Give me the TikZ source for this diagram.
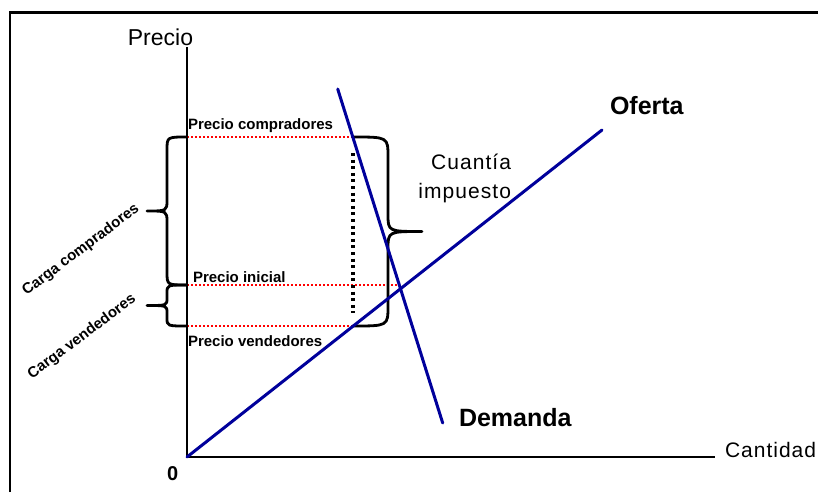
\documentclass[tikz,border=0pt]{standalone}
\usepackage{fontspec}
\setmainfont{Liberation Sans}
\newfontfamily\spacedA[LetterSpace=4.8]{Liberation Sans}
\newfontfamily\spacedB[LetterSpace=5]{Liberation Sans}
\definecolor{curveblue}{RGB}{0,0,155}
\begin{document}
\begin{tikzpicture}[x=1pt,y=-1pt,
  txt/.style={inner sep=0pt,outer sep=0pt},
  smalllbl/.style={txt,font=\fontsize{15}{17}\selectfont\bfseries},
  biglbl/.style={txt,font=\fontsize{25}{28}\selectfont\bfseries},
  axisline/.style={line width=2.3pt,black},
  curve/.style={line width=3pt,curveblue,line cap=round},
  reddots/.style={line width=2.4pt,red,dash pattern=on 2pt off 2pt},
  blackdots/.style={line width=3.2pt,black,dash pattern=on 3pt off 3.6pt},
  brc/.style={line width=2.8pt,black,line cap=round,line join=round},
  framestyle/.style={line width=2.6pt,black}]
\useasboundingbox (0,0) rectangle (818,492);
% frame
\coordinate (fbl) at (10,492);
\coordinate (ftl) at (10,12.7);
\coordinate (ftr) at (818,12.7);
\draw[framestyle] (fbl) -- (ftl) -- (ftr);
% axes
\coordinate (O) at (187,457);
\coordinate (ytop) at (187,47);
\coordinate (xend) at (715,457);
\draw[axisline] (ytop) -- (O) -- (xend);
% price levels
\coordinate (pc0) at (187,137);  \coordinate (pc1) at (353,137);
\coordinate (pi0) at (187,285);  \coordinate (pi1) at (400,285);
\coordinate (pv0) at (187,326);  \coordinate (pv1) at (353,326);
\draw[reddots] (pc0) -- (pc1);
\draw[reddots] (pi0) -- (pi1);
\draw[reddots] (pv0) -- (pv1);
\coordinate (vd0) at (353,153);  \coordinate (vd1) at (353,313);
\draw[blackdots] (vd0) -- (vd1);
% braces
\draw[brc] (187,137) .. controls (167,137) .. (167,150) -- (167,200)
  .. controls (167,211) .. (147,211) .. controls (167,211) .. (167,222)
  -- (167,272) .. controls (167,285) .. (187,285);
\draw[brc] (187,285) .. controls (167,285) .. (167,293) -- (167,298)
  .. controls (167,305.5) .. (147,305.5) .. controls (167,305.5) .. (167,313)
  -- (167,318) .. controls (167,326) .. (187,326);
\draw[brc] (353,137) .. controls (388,137) .. (388,157) -- (388,214)
  .. controls (388,231.5) .. (422,231.5) .. controls (388,231.5) .. (388,249)
  -- (388,306) .. controls (388,326) .. (353,326);
% supply and demand
\coordinate (ofEnd) at (602,130);
\coordinate (dTop) at (337.7,89);
\coordinate (dBot) at (442.7,423);
\draw[curve] (O) -- (ofEnd);
\draw[curve] (dTop) -- (dBot);
% labels
\node[txt,font=\fontsize{23}{26}\selectfont,anchor=base] (precio) at (160.5,46) {Precio};
\node[txt,font=\fontsize{21}{24}\selectfont\spacedA,anchor=base west] (cantidad) at (725,457.5) {Cantidad};
\node[txt,font=\fontsize{20}{22}\selectfont\bfseries,anchor=base west] (cero) at (167,480) {0};
\node[biglbl,anchor=base west] (oferta) at (610,114) {Oferta};
\node[biglbl,anchor=base west] (demanda) at (459,426) {Demanda};
\node[txt,font=\fontsize{21}{24}\selectfont\spacedB,anchor=base east] (cuantia) at (511,169) {Cuantía};
\node[txt,font=\fontsize{21}{24}\selectfont\spacedB,anchor=base east] (impuesto) at (511,198) {impuesto};
\node[smalllbl,anchor=base west] (pcomp) at (188,129) {Precio compradores};
\node[smalllbl,anchor=base west] (pini) at (193,282) {Precio inicial};
\node[smalllbl,anchor=base west] (pvend) at (188,346.5) {Precio vendedores};
\node[txt,font=\fontsize{15}{17}\selectfont\bfseries,rotate=37] (ccomp) at (81,250) {Carga compradores};
\node[txt,font=\fontsize{15}{17}\selectfont\bfseries,rotate=37] (cvend) at (82,337) {Carga vendedores};
\end{tikzpicture}
\end{document}
